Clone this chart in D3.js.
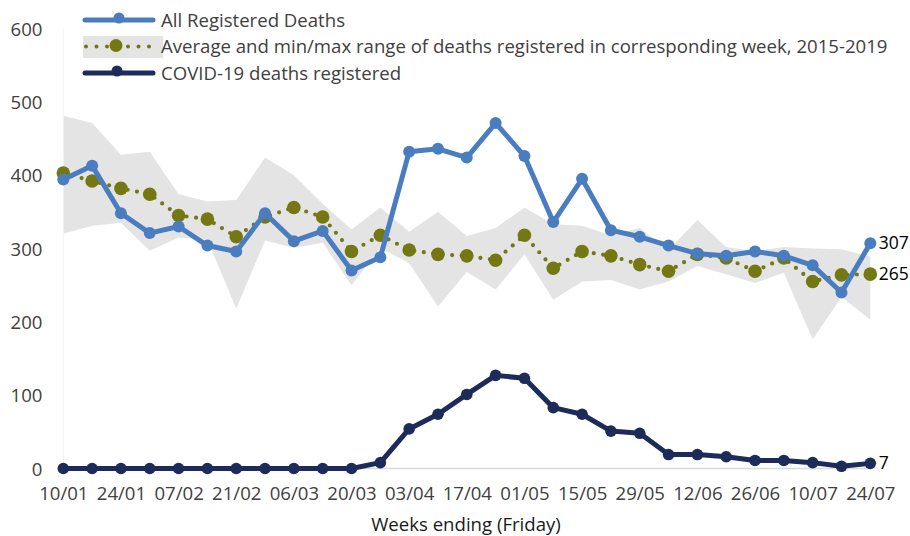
<!DOCTYPE html>
<html><head><meta charset="utf-8">
<script src="https://cdn.jsdelivr.net/npm/d3@7"></script>
<style>body{margin:0;background:#fff}svg{display:block}text{font-family:"Open Sans",sans-serif}</style>
</head><body><svg id="c" width="910" height="536"></svg>
<script>
const weeks = ["10/01","17/01","24/01","31/01","07/02","14/02","21/02","28/02","06/03","13/03","20/03","27/03","03/04","10/04","17/04","24/04","01/05","08/05","15/05","22/05","29/05","05/06","12/06","19/06","26/06","03/07","10/07","17/07","24/07"];
const tickLabels = ["10/01","24/01","07/02","21/02","06/03","20/03","03/04","17/04","01/05","15/05","29/05","12/06","26/06","10/07","24/07"];
const allDeaths = [394,413,348,321,330,304,296,348,310,324,270,288,432,436,424,471,426,336,395,325,316,304,293,290,296,290,277,240,307];
const avgDeaths = [403,392,382,374,345,340,316,343,356,343,296,318,298,292,290,284,318,273,296,290,278,269,292,287,269,287,255,264,265];
const maxDeaths = [481,471,428,432,374,364,366,424,400,361,326,356,323,350,317,328,356,333,331,318,328,298,339,302,296,302,300,299,289];
const minDeaths = [320,331,335,297,315,312,218,311,301,308,250,301,280,221,268,244,292,230,255,257,244,255,276,265,253,267,176,234,203];
const covidDeaths = [0,0,0,0,0,0,0,0,0,0,0,8,54,74,101,127,123,83,74,51,48,19,19,16,11,11,8,3,7];
const yTicks = [0,100,200,300,400,500,600];
const legendLabels = ["All Registered Deaths","Average and min/max range of deaths registered in corresponding week, 2015-2019","COVID-19 deaths registered"];

const FONT = "'Open Sans',sans-serif", FS = "18.6px";
const svg = d3.select("#c");
const x = d3.scalePoint().domain(weeks).range([63.3, 870.3]);
const y = d3.scaleLinear().domain([0,600]).range([468.5, 28.5]);
const cBlue = "#4a7dc0", cNavy = "#1c2b5a", cOlive = "#747812", cBand = "#e4e4e4", cText = "#404040";

// band
svg.append("path").datum(weeks.map((w,i)=>({w, lo:minDeaths[i], hi:maxDeaths[i]})))
  .attr("fill", cBand)
  .attr("d", d3.area().x(d=>x(d.w)).y0(d=>y(d.lo)).y1(d=>y(d.hi)));

// axes lines
svg.append("line").attr("x1", x(weeks[0])).attr("x2", x(weeks[0])).attr("y1", y(600)).attr("y2", y(0)).attr("stroke","#f3f3f3").attr("stroke-width",1);
svg.append("line").attr("x1", x(weeks[0])).attr("x2", x(weeks[weeks.length-1])).attr("y1", y(0)).attr("y2", y(0)).attr("stroke","#d9d9d9").attr("stroke-width",1.5);

// y axis
const yAxis = svg.append("g").attr("transform","translate(42.5,0)")
  .call(d3.axisLeft(y).tickValues(yTicks).tickSize(0).tickPadding(0));
yAxis.select(".domain").remove();
yAxis.selectAll("text").attr("fill",cText).style("font-size",FS).style("font-family",FONT).attr("dy","0.36em");

// x axis
const xAxis = svg.append("g").attr("transform","translate(0,487)")
  .call(d3.axisBottom(x).tickValues(tickLabels).tickSize(0).tickPadding(0));
xAxis.select(".domain").remove();
xAxis.selectAll("text").attr("fill",cText).style("font-size",FS).style("font-family",FONT).attr("dy","0.71em");

svg.append("text").attr("x",466).attr("y",531).attr("text-anchor","middle").attr("fill","#1a1a1a")
  .style("font-size",FS).text("Weeks ending (Friday)");

const line = d3.line().x((d,i)=>x(weeks[i])).y(d=>y(d));

// average dotted
svg.append("path").datum(avgDeaths).attr("fill","none").attr("stroke",cOlive).attr("stroke-width",4.2)
  .attr("stroke-linecap","round").attr("stroke-dasharray","0,9.5").attr("d", line);
svg.append("g").selectAll("circle").data(avgDeaths).join("circle")
  .attr("cx",(d,i)=>x(weeks[i])).attr("cy",d=>y(d)).attr("r",6.8).attr("fill",cOlive);

// all deaths
svg.append("path").datum(allDeaths).attr("fill","none").attr("stroke",cBlue).attr("stroke-width",5)
  .attr("stroke-linejoin","round").attr("d", line);
svg.append("g").selectAll("circle").data(allDeaths).join("circle")
  .attr("cx",(d,i)=>x(weeks[i])).attr("cy",d=>y(d)).attr("r",6).attr("fill",cBlue);

// covid
svg.append("path").datum(covidDeaths).attr("fill","none").attr("stroke",cNavy).attr("stroke-width",5)
  .attr("stroke-linejoin","round").attr("d", line);
svg.append("g").selectAll("circle").data(covidDeaths).join("circle")
  .attr("cx",(d,i)=>x(weeks[i])).attr("cy",d=>y(d)).attr("r",5.8).attr("fill",cNavy);

// end labels
const last = weeks.length-1;
[[allDeaths[last], y(allDeaths[last])],[avgDeaths[last], y(avgDeaths[last])],[covidDeaths[last], y(covidDeaths[last])]].forEach(([v,py])=>{
  svg.append("text").attr("x", x(weeks[last])+8.5).attr("y", py).attr("dy","0.35em").attr("fill","#000")
    .style("font-size","17.5px").text(v);
});

// legend
const lg = svg.append("g");
const ly = [20, 46.5, 73];
lg.append("rect").attr("x",83).attr("y",36).attr("width",80).attr("height",22).attr("fill",cBand);
lg.append("line").attr("x1",85).attr("x2",153).attr("y1",ly[0]).attr("y2",ly[0]).attr("stroke",cBlue).attr("stroke-width",5).attr("stroke-linecap","round");
lg.append("circle").attr("cx",119).attr("cy",ly[0]-2).attr("r",5.5).attr("fill",cBlue);
lg.append("line").attr("x1",86).attr("x2",155).attr("y1",ly[1]).attr("y2",ly[1]).attr("stroke",cOlive).attr("stroke-width",4).attr("stroke-linecap","round").attr("stroke-dasharray","0,10.5");
lg.append("circle").attr("cx",116).attr("cy",ly[1]-1).attr("r",6.5).attr("fill",cOlive);
lg.append("line").attr("x1",85).attr("x2",153).attr("y1",ly[2]).attr("y2",ly[2]).attr("stroke",cNavy).attr("stroke-width",5).attr("stroke-linecap","round");
lg.append("circle").attr("cx",117).attr("cy",ly[2]-2).attr("r",5.5).attr("fill",cNavy);
const legendWidths = [null, 731, null];
legendLabels.forEach((t,i)=>{
  const tx = lg.append("text").attr("x",161).attr("y",ly[i]).attr("dy","0.35em").attr("fill",cText).style("font-size",FS).text(t);
  if (legendWidths[i]) {
    const w = tx.node().getComputedTextLength();
    if (Math.abs(w - legendWidths[i]) > 6) tx.attr("textLength", legendWidths[i]).attr("lengthAdjust","spacingAndGlyphs");
  }
});
</script></body></html>
